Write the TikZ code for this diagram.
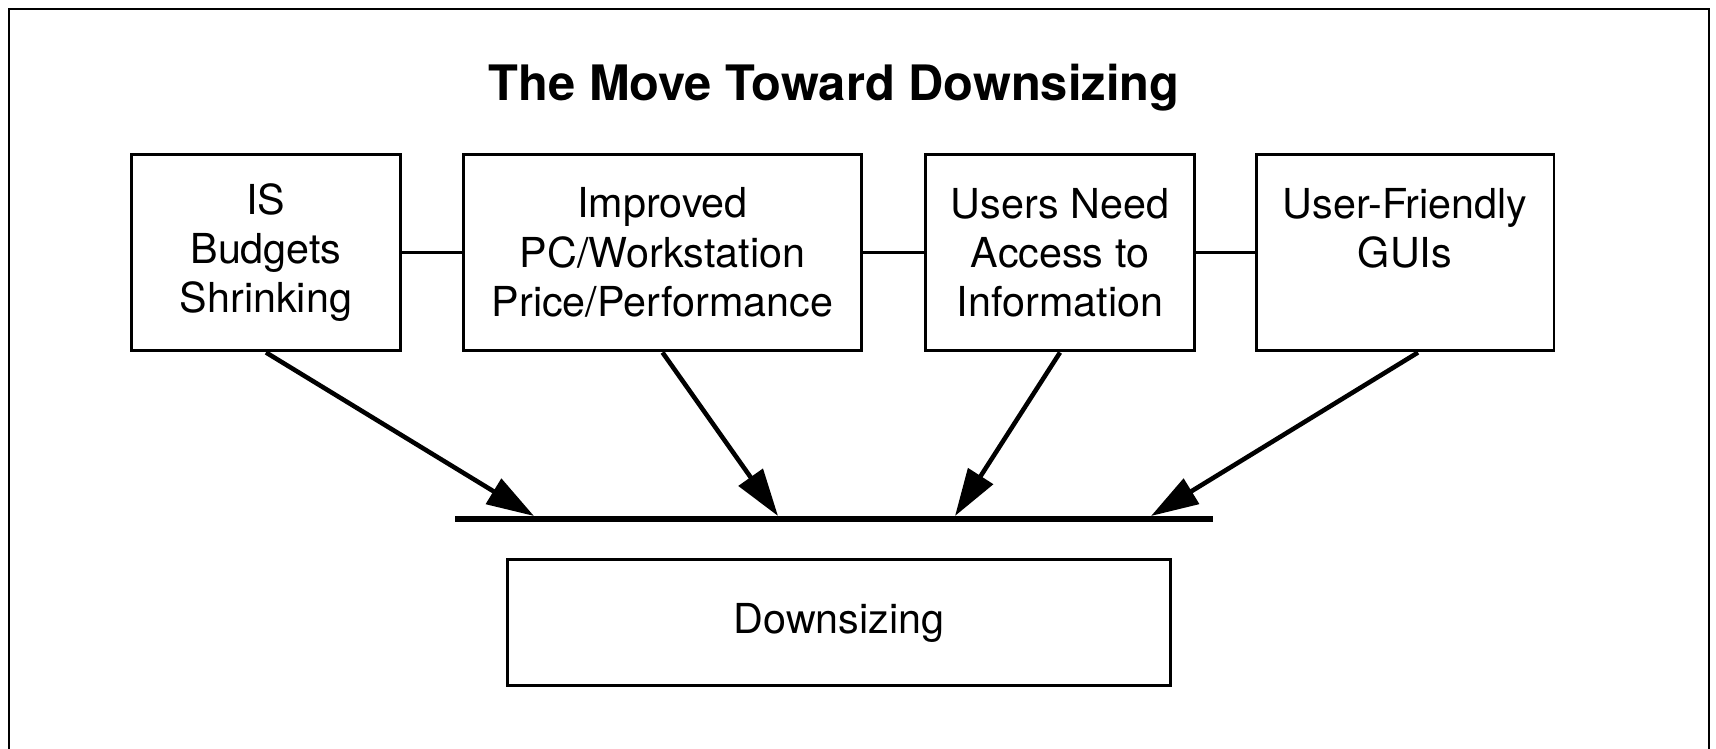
\documentclass[tikz,border=0pt]{standalone}
\usepackage{fontspec}
\setmainfont{TeX Gyre Heros}
\usetikzlibrary{arrows.meta}

\begin{document}
\begin{tikzpicture}[x=0.02cm, y=-0.02cm,
    box/.style={draw, line width=1.7pt, align=center, inner sep=0pt,
        font=\fontsize{23.5}{28}\selectfont},
    link/.style={line width=1.8pt},
    arr/.style={line width=2.6pt, -{Triangle[length=0.95cm, width=0.58cm]}}]
    \useasboundingbox (0,0) rectangle (1716,749);
    \draw[line width=1pt] (9,749) -- (9,9) -- (1709,9) -- (1709,749);

    \node[anchor=base, font=\fontsize{27.8}{33}\selectfont\bfseries] (title) at (834,101) {The Move Toward Downsizing};

    \node[box, minimum width=5.4cm, minimum height=3.94cm] (budget) at (266,252.5) {IS\\Budgets\\Shrinking};
    \node[box, minimum width=7.98cm, minimum height=3.94cm] (price) at (662.5,252.5) {Improved\\PC/Workstation\\Price/Performance};
    \node[box, minimum width=5.4cm, minimum height=3.94cm] (access) at (1060,252.5) {Users Need\\Access to\\Information};
    \node[box, minimum width=5.96cm, minimum height=3.94cm] (gui) at (1405,252.5) {User-Friendly\\GUIs\\\mbox{}};
    \node[box, minimum width=13.28cm, minimum height=2.54cm] (down) at (839,622.5) {Downsizing};

    \draw[link] (budget) -- (price);
    \draw[link] (price) -- (access);
    \draw[link] (access) -- (gui);

    % the bar the arrows meet
    \coordinate (barl) at (455,519);
    \coordinate (barr) at (1213,519);
    \draw[line width=3.2pt] (barl) -- (barr);
    \coordinate (hit1) at (534,516);
    \coordinate (hit2) at (778,516);
    \coordinate (hit3) at (955,516);
    \coordinate (hit4) at (1151,516);

    \draw[arr] (budget.south) -- (hit1);
    \draw[arr] (price.south) -- (hit2);
    \draw[arr] (access.south) -- (hit3);
    \draw[arr] (gui.south) ++(13,0) coordinate (gs) -- (hit4);
\end{tikzpicture}
\end{document}
